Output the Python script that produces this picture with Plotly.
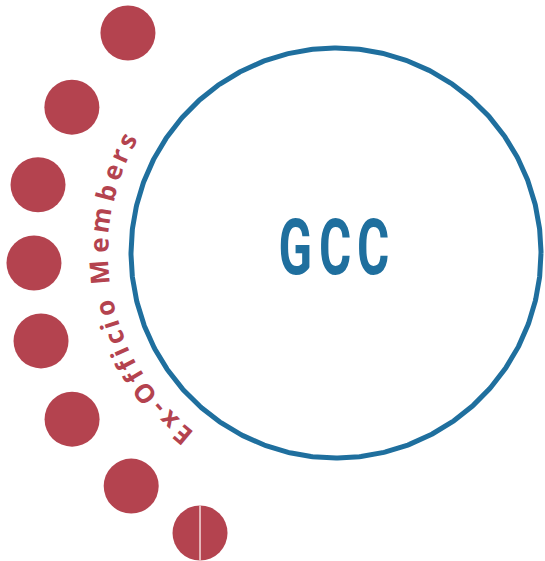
import numpy as np
import plotly.graph_objects as go

# ---- data ----
center_label = "GCC"
arc_label = "Ex-Officio Members"
# ex-officio member seats: angle (deg, counter-clockwise from +x) and distance from GCC centre
member_angles = [133.4, 151.1, 167.1, 181.9, 196.6, 212.2, 228.7, 244.1]
member_dist = [302.8, 301.7, 305.7, 302.2, 307.8, 311.9, 310.3, 311.3]
split_member = [7]  # index of the seat drawn as two halves

# ---- styling / layout constants ----
W, H = 545, 561
CX, CY, R = 336, 253, 205
BLUE = "#1F6F9E"
RED = "#B4434F"
DOT_SIZE = 55
TEXT_R = 238
TEXT_START, TEXT_END = 230.0, 151.7
TEXT_SIZE = 26

fig = go.Figure()

# big GCC circle
t = np.linspace(0, 2 * np.pi, 721)
fig.add_trace(go.Scatter(
    x=CX + R * np.cos(t), y=CY + R * np.sin(t), mode="lines",
    line=dict(color=BLUE, width=5), hoverinfo="skip", showlegend=False))

# member dots
ang = np.radians(member_angles)
dist = np.array(member_dist)
mx = CX + dist * np.cos(ang)
my = CY - dist * np.sin(ang)
fig.add_trace(go.Scatter(
    x=mx, y=my, mode="markers",
    marker=dict(size=DOT_SIZE, color=RED, line=dict(width=0)),
    hoverinfo="skip", showlegend=False))

for i in split_member:
    fig.add_shape(type="line", xref="x", yref="y",
                  x0=mx[i], x1=mx[i], y0=my[i] - DOT_SIZE / 2, y1=my[i] + DOT_SIZE / 2,
                  line=dict(color="#F4DCDC", width=1.5))

# centre label (letters condensed afterwards in the page)
letters = list(center_label)
gx = [295, 335, 373]
for ch, x in zip(letters, gx):
    fig.add_annotation(x=x, y=248, xref="x", yref="y", text=ch, showarrow=False,
                       font=dict(family="Roboto, sans-serif", size=77, color=BLUE, weight="bold"),
                       xanchor="center", yanchor="middle")

# curved label along the arc
em = {"E": .56, "x": .56, "-": .32, "O": .79, "f": .37, "i": .29, "c": .48, "o": .6,
      " ": .26, "M": .93, "e": .57, "m": .93, "b": .62, "r": .43, "s": .48}
chars = list(arc_label)
w = np.array([em.get(c, .55) for c in chars]) + 0.08
centers = np.cumsum(w) - w / 2
centers = (centers - centers[0]) / (centers[-1] - centers[0])
for ch, f in zip(chars, centers):
    th = TEXT_START + (TEXT_END - TEXT_START) * f
    rad = np.radians(th)
    fig.add_annotation(x=CX + TEXT_R * np.cos(rad), y=CY - TEXT_R * np.sin(rad),
                       xref="x", yref="y", text=ch, showarrow=False,
                       textangle=90 - th,
                       font=dict(family="Open Sans, sans-serif", size=TEXT_SIZE,
                                 color=RED, weight="bold"),
                       xanchor="center", yanchor="middle")

fig.update_layout(
    width=W, height=H, margin=dict(l=0, r=0, t=0, b=0),
    paper_bgcolor="white", plot_bgcolor="white",
    xaxis=dict(range=[0, W], visible=False, fixedrange=True),
    yaxis=dict(range=[H, 0], visible=False, fixedrange=True),
)

post = """
document.body.style.margin = '0';
document.body.style.overflow = 'hidden';
var gd = document.getElementById('{plot_id}');
function condense() {
  document.querySelectorAll('g.annotation text.annotation-text').forEach(function (t) {
    var s = t.textContent;
    if (s === 'G' || s === 'C') {
      t.style.transformBox = 'fill-box';
      t.style.transformOrigin = 'center';
      t.style.transform = 'scaleX(0.64)';
    }
  });
}
condense();
if (gd && gd.on) { gd.on('plotly_afterplot', condense); }
setTimeout(condense, 50);
"""
fig.write_html("out.html", post_script=post, config={"displayModeBar": False})
